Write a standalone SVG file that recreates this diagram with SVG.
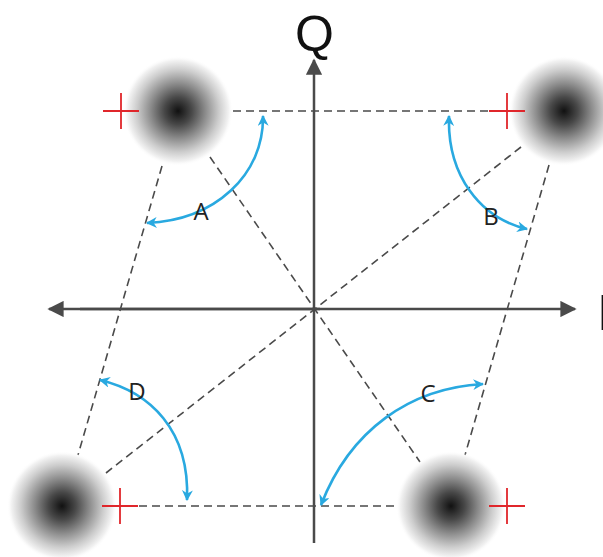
<svg xmlns="http://www.w3.org/2000/svg" width="603" height="557" viewBox="0 0 603 557">
<style>
.axis{stroke:#4a4a4a;stroke-width:2.5;fill:none}
.dash{stroke:#4a4a4a;stroke-width:1.6;stroke-dasharray:8 5;fill:none}
.arc{stroke:#29a9e0;stroke-width:2.6;fill:none;marker-start:url(#ab);marker-end:url(#ab)}
.cross{stroke:#e0262b;stroke-width:1.8;fill:none}
.lbl{font-family:"Open Sans","Liberation Sans",sans-serif;font-size:24px;fill:#222;text-anchor:middle}
.ax{font-family:"Liberation Sans","Open Sans",sans-serif;font-size:50px;fill:#111}
</style>
<defs>
<radialGradient id="blob">
<stop offset="0" stop-color="#111"/>
<stop offset="0.25" stop-color="#484848"/>
<stop offset="0.5" stop-color="#8c8c8c"/>
<stop offset="0.75" stop-color="#cdcdcd"/>
<stop offset="0.92" stop-color="#f2f2f2"/>
<stop offset="1" stop-color="#fff" stop-opacity="0"/>
</radialGradient>
<marker id="ab" viewBox="0 0 10 10" refX="9" refY="5" markerWidth="4.2" markerHeight="4.2" orient="auto-start-reverse" markerUnits="strokeWidth">
<path d="M0,0 L10,5 L0,10 L3,5 z" fill="#29a9e0"/>
</marker>
<marker id="ah" viewBox="0 0 10 10" refX="9" refY="5" markerWidth="6.5" markerHeight="6.5" orient="auto" markerUnits="strokeWidth">
<path d="M0,0 L10,5 L0,10 z" fill="#4a4a4a"/>
</marker>
</defs>
<g id="connectors">
<line class="dash" x1="233" y1="111" x2="490" y2="111"/>
<line class="dash" x1="139" y1="506" x2="397" y2="506"/>
<line class="dash" x1="210" y1="157" x2="420" y2="462"/>
<line class="dash" x1="521" y1="147" x2="106" y2="473"/>
<line class="dash" x1="162" y1="166" x2="78" y2="455"/>
<line class="dash" x1="549" y1="165" x2="465" y2="455"/>
<line class="axis" x1="314" y1="543" x2="314" y2="60" marker-end="url(#ah)"/>
<line class="axis" x1="80" y1="309" x2="575" y2="309" marker-end="url(#ah)"/>
<line class="axis" x1="320" y1="309" x2="49" y2="309" marker-end="url(#ah)"/>
<path class="arc" d="M263,116 C264,175 215,220 147,223"/>
<path class="arc" d="M449,116 C447,175 480,218 527,229"/>
<path class="arc" d="M321,505 C350,430 410,388 483,384"/>
<path class="arc" d="M100,380 C150,392 190,430 187,500"/>
</g>
<g id="blobA"><circle cx="178" cy="111" r="55" fill="url(#blob)"/><path class="cross" d="M103,111 H139 M121,93 V129"/></g>
<g id="blobB"><circle cx="564" cy="111" r="55" fill="url(#blob)"/><path class="cross" d="M489,111 H525 M507,93 V129"/></g>
<g id="blobC"><circle cx="451" cy="506" r="55" fill="url(#blob)"/><path class="cross" d="M489,506 H525 M507,488 V524"/></g>
<g id="blobD"><circle cx="62" cy="506" r="55" fill="url(#blob)"/><path class="cross" d="M102,506 H138 M120,488 V524"/></g>
<g id="labels">
<text class="lbl" x="201" y="220">A</text>
<text class="lbl" x="491" y="225">B</text>
<text class="lbl" x="428" y="402">C</text>
<text class="lbl" x="137" y="400">D</text>
<text class="ax" x="295" y="51">Q</text>
<text class="ax" x="597" y="330">I</text>
</g>
</svg>
